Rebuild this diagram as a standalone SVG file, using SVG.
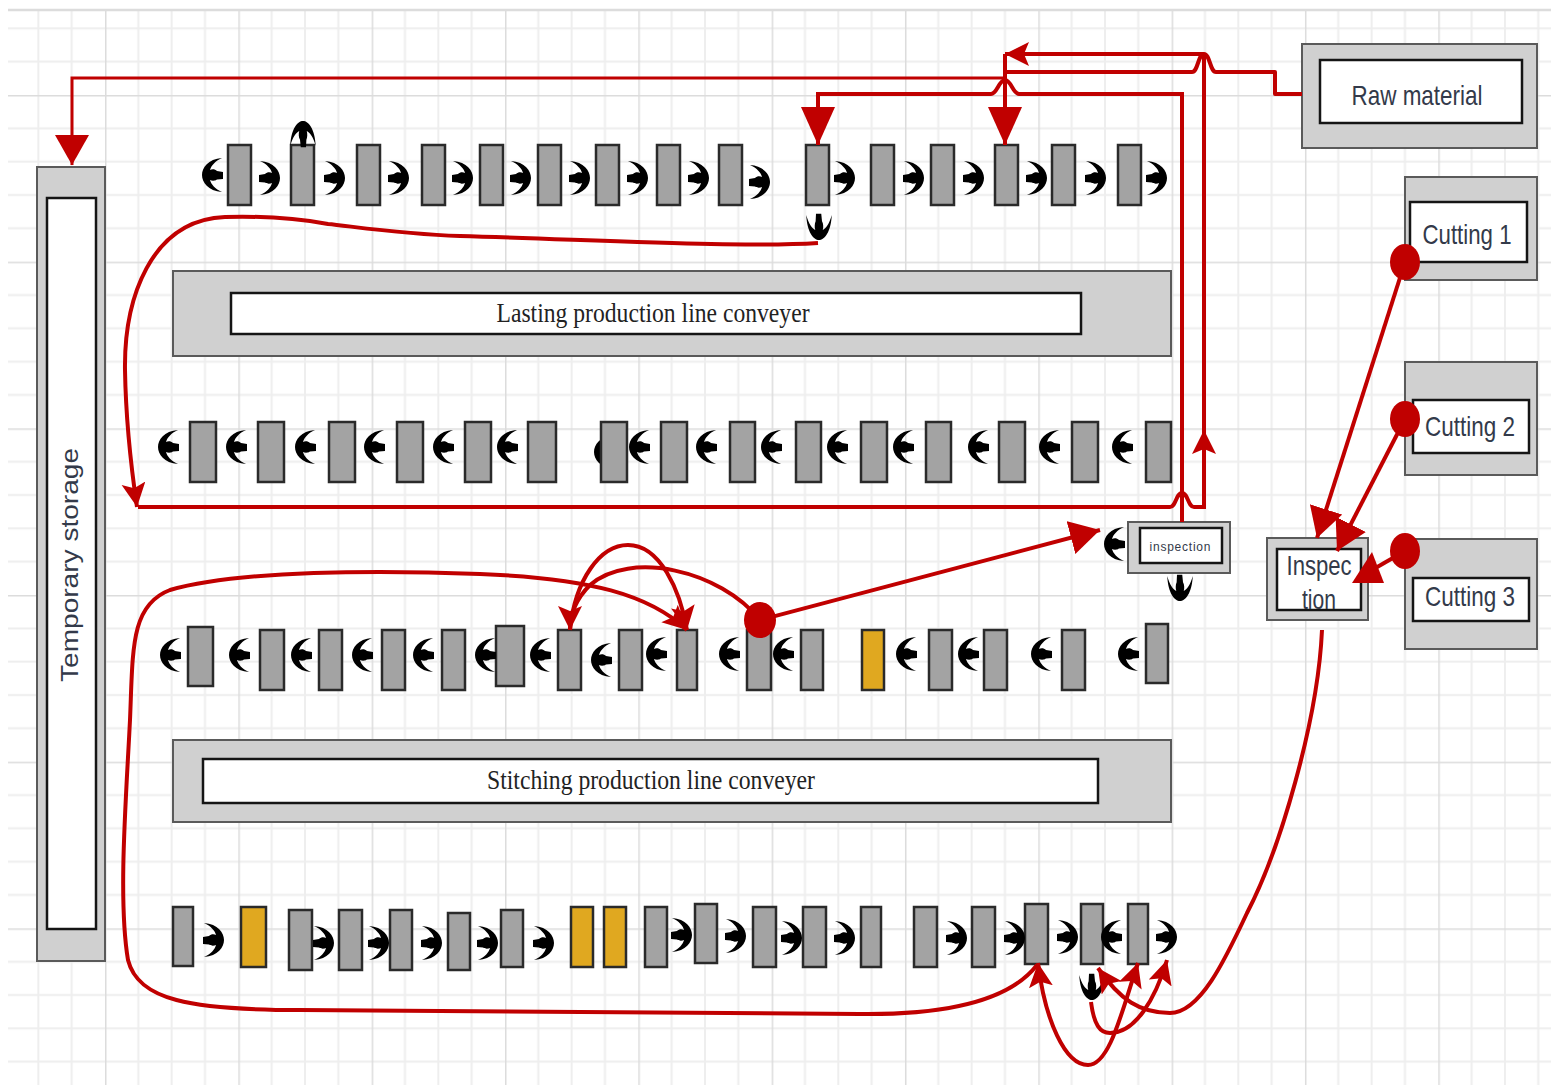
<svg xmlns="http://www.w3.org/2000/svg" width="1551" height="1085" viewBox="0 0 1551 1085">
<style>
.box{fill:#d0d0d0;stroke:#5a5a5a;stroke-width:2}
.in{fill:#fff;stroke:#151515;stroke-width:2.5}
.st{fill:#a3a3a3;stroke:#2a2a2a;stroke-width:2.5}
.go{fill:#e0a820;stroke:#2a2a2a;stroke-width:2.5}
.c{fill:none;stroke:#c00000;stroke-width:4}
.th{stroke-width:3}
.t{fill:#c00000;stroke:none}
.lb{font-family:"Liberation Sans",Arial,sans-serif;fill:#333a4a;text-anchor:middle}
.sf{font-family:"Liberation Serif","Times New Roman",serif;fill:#222;text-anchor:middle}
</style>
<defs>
<pattern id="grid" patternUnits="userSpaceOnUse" x="-28.33" y="-71.67" width="133.33" height="166.67">
<path d="M33.33 0V166.67M66.67 0V166.67M100 0V166.67M0 33.33H133.33M0 66.67H133.33M0 100H133.33M0 133.33H133.33" stroke="#eeeeee" stroke-width="2" fill="none"/>
<path d="M0 0V166.67M0 0H133.33" stroke="#dcdcdc" stroke-width="3" fill="none"/>
</pattern>
<path id="gr" d="M-8,-17C6,-16 12,-7 12,0C12,7 6,16 -8,17C-1,14 3,9 4,5C2,6 -1,6 -3,4.500L-9,4L-9,-3L-3,-4C-1,-6 2,-6 4,-5C3,-9 -1,-14 -8,-17Z" fill="#000"/>
<use id="gl" href="#gr" transform="scale(-1,1)"/>
<use id="gd" href="#gr" transform="rotate(90) scale(1.25,0.75)"/>
<use id="gu" href="#gr" transform="rotate(-90) scale(1.25,0.75)"/>
<marker id="big" markerUnits="userSpaceOnUse" markerWidth="34" markerHeight="36" refX="30" refY="17" orient="auto"><path d="M0,0L30,17L0,34Z" fill="#c00000"/></marker>
<marker id="tall" markerUnits="userSpaceOnUse" markerWidth="40" markerHeight="36" refX="38" refY="17" orient="auto"><path d="M0,0L38,17L0,34Z" fill="#c00000"/></marker>
<marker id="mid" markerUnits="userSpaceOnUse" markerWidth="26" markerHeight="26" refX="24" refY="12" orient="auto"><path d="M0,0L24,12L0,24L5,12Z" fill="#c00000"/></marker>
</defs>
<rect x="8" y="10" width="1543" height="1075" fill="#fff"/>
<rect x="8" y="10" width="1543" height="1075" fill="url(#grid)"/>
<path d="M8 10H1551" stroke="#dcdcdc" stroke-width="2.5"/>

<g id="temporary-storage"><rect class="box" x="37" y="167" width="68" height="794"/><rect class="in" x="47" y="198" width="49" height="731"/><text class="lb" transform="translate(78,565) rotate(-90)" font-size="24" textLength="234" lengthAdjust="spacingAndGlyphs">Temporary storage</text></g>
<g id="lasting-conveyer"><rect class="box" x="173" y="271" width="998" height="85"/><rect class="in" x="231" y="293" width="850" height="41"/><text class="sf" x="653" y="322" font-size="28" textLength="313" lengthAdjust="spacingAndGlyphs">Lasting production line conveyer</text></g>
<g id="stitching-conveyer"><rect class="box" x="173" y="740" width="998" height="82"/><rect class="in" x="203" y="759" width="895" height="44"/><text class="sf" x="651" y="789" font-size="28" textLength="328" lengthAdjust="spacingAndGlyphs">Stitching production line conveyer</text></g>
<g id="raw-material"><rect class="box" x="1302" y="44" width="235" height="104"/><rect class="in" x="1320" y="60" width="202" height="63"/><text class="lb" x="1417" y="105" font-size="28" textLength="131" lengthAdjust="spacingAndGlyphs">Raw material</text></g>
<g id="cutting-1"><rect class="box" x="1405" y="177" width="132" height="103"/><rect class="in" x="1410" y="202" width="117" height="60"/><text class="lb" x="1467" y="244" font-size="28" textLength="89" lengthAdjust="spacingAndGlyphs">Cutting 1</text></g>
<g id="cutting-2"><rect class="box" x="1405" y="362" width="132" height="113"/><rect class="in" x="1413" y="400" width="116" height="53"/><text class="lb" x="1470" y="436" font-size="28" textLength="90" lengthAdjust="spacingAndGlyphs">Cutting 2</text></g>
<g id="cutting-3"><rect class="box" x="1405" y="539" width="132" height="110"/><rect class="in" x="1413" y="578" width="116" height="43"/><text class="lb" x="1470" y="606" font-size="28" textLength="90" lengthAdjust="spacingAndGlyphs">Cutting 3</text></g>
<g id="inspection-main"><rect class="box" x="1267" y="538" width="101" height="82"/><rect class="in" x="1277" y="549" width="84" height="61"/><text class="lb" x="1319" y="575" font-size="27" textLength="65" lengthAdjust="spacingAndGlyphs">Inspec</text><text class="lb" x="1319" y="609" font-size="27" textLength="34" lengthAdjust="spacingAndGlyphs">tion</text></g>
<g id="inspection-small"><rect class="box" x="1128" y="522" width="102" height="51"/><rect class="in" x="1140" y="528" width="82" height="35"/><text class="lb" x="1180" y="551" font-size="12" textLength="61" lengthAdjust="spacing">inspection</text></g>

<use href="#gl" transform="translate(606,452)"/>

<g id="row-1">
<g id="r1-1"><rect class="st" x="228" y="145" width="23" height="60"/></g>
<g id="r1-2"><rect class="st" x="291" y="145" width="23" height="60"/></g>
<g id="r1-3"><rect class="st" x="357" y="145" width="23" height="60"/></g>
<g id="r1-4"><rect class="st" x="422" y="145" width="23" height="60"/></g>
<g id="r1-5"><rect class="st" x="480" y="145" width="23" height="60"/></g>
<g id="r1-6"><rect class="st" x="538" y="145" width="23" height="60"/></g>
<g id="r1-7"><rect class="st" x="596" y="145" width="23" height="60"/></g>
<g id="r1-8"><rect class="st" x="657" y="145" width="23" height="60"/></g>
<g id="r1-9"><rect class="st" x="719" y="145" width="23" height="60"/></g>
<g id="r1-10"><rect class="st" x="806" y="145" width="23" height="60"/></g>
<g id="r1-11"><rect class="st" x="871" y="145" width="23" height="60"/></g>
<g id="r1-12"><rect class="st" x="931" y="145" width="23" height="60"/></g>
<g id="r1-13"><rect class="st" x="995" y="145" width="23" height="60"/></g>
<g id="r1-14"><rect class="st" x="1052" y="145" width="23" height="60"/></g>
<g id="r1-15"><rect class="st" x="1118" y="145" width="23" height="60"/></g>
</g>
<g id="row-2">
<g id="r2-1"><rect class="st" x="190" y="422" width="26" height="60"/></g>
<g id="r2-2"><rect class="st" x="258" y="422" width="26" height="60"/></g>
<g id="r2-3"><rect class="st" x="329" y="422" width="26" height="60"/></g>
<g id="r2-4"><rect class="st" x="397" y="422" width="26" height="60"/></g>
<g id="r2-5"><rect class="st" x="465" y="422" width="26" height="60"/></g>
<g id="r2-6"><rect class="st" x="528" y="422" width="28" height="60"/></g>
<g id="r2-7"><rect class="st" x="601" y="422" width="26" height="60"/></g>
<g id="r2-8"><rect class="st" x="661" y="422" width="26" height="60"/></g>
<g id="r2-9"><rect class="st" x="730" y="422" width="25" height="60"/></g>
<g id="r2-10"><rect class="st" x="796" y="422" width="25" height="60"/></g>
<g id="r2-11"><rect class="st" x="861" y="422" width="26" height="60"/></g>
<g id="r2-12"><rect class="st" x="926" y="422" width="25" height="60"/></g>
<g id="r2-13"><rect class="st" x="999" y="422" width="26" height="60"/></g>
<g id="r2-14"><rect class="st" x="1072" y="422" width="26" height="60"/></g>
<g id="r2-15"><rect class="st" x="1146" y="422" width="25" height="60"/></g>
</g>
<g id="row-3">
<g id="r3-1"><rect class="st" x="188" y="627" width="25" height="59"/></g>
<g id="r3-2"><rect class="st" x="260" y="630" width="24" height="60"/></g>
<g id="r3-3"><rect class="st" x="319" y="630" width="23" height="60"/></g>
<g id="r3-4"><rect class="st" x="382" y="630" width="23" height="60"/></g>
<g id="r3-5"><rect class="st" x="442" y="630" width="23" height="60"/></g>
<g id="r3-6"><rect class="st" x="496" y="626" width="28" height="60"/></g>
<g id="r3-7"><rect class="st" x="558" y="630" width="23" height="60"/></g>
<g id="r3-8"><rect class="st" x="619" y="630" width="23" height="60"/></g>
<g id="r3-9"><rect class="st" x="677" y="630" width="20" height="60"/></g>
<g id="r3-10"><rect class="st" x="747" y="630" width="24" height="60"/></g>
<g id="r3-11"><rect class="st" x="801" y="630" width="22" height="60"/></g>
<g id="r3-12"><rect class="go" x="862" y="630" width="22" height="60"/></g>
<g id="r3-13"><rect class="st" x="929" y="630" width="23" height="60"/></g>
<g id="r3-14"><rect class="st" x="984" y="630" width="23" height="60"/></g>
<g id="r3-15"><rect class="st" x="1062" y="630" width="23" height="60"/></g>
<g id="r3-16"><rect class="st" x="1146" y="624" width="22" height="59"/></g>
</g>
<g id="row-4">
<g id="r4-1"><rect class="st" x="173" y="907" width="20" height="59"/></g>
<g id="r4-2"><rect class="go" x="241" y="907" width="25" height="60"/></g>
<g id="r4-3"><rect class="st" x="289" y="910" width="23" height="60"/></g>
<g id="r4-4"><rect class="st" x="339" y="910" width="23" height="60"/></g>
<g id="r4-5"><rect class="st" x="390" y="910" width="22" height="60"/></g>
<g id="r4-6"><rect class="st" x="448" y="913" width="22" height="57"/></g>
<g id="r4-7"><rect class="st" x="501" y="910" width="22" height="57"/></g>
<g id="r4-8"><rect class="go" x="571" y="907" width="22" height="60"/></g>
<g id="r4-9"><rect class="go" x="604" y="907" width="22" height="60"/></g>
<g id="r4-10"><rect class="st" x="645" y="907" width="22" height="60"/></g>
<g id="r4-11"><rect class="st" x="695" y="904" width="22" height="59"/></g>
<g id="r4-12"><rect class="st" x="753" y="907" width="23" height="60"/></g>
<g id="r4-13"><rect class="st" x="803" y="907" width="23" height="60"/></g>
<g id="r4-14"><rect class="st" x="861" y="907" width="20" height="60"/></g>
<g id="r4-15"><rect class="st" x="914" y="907" width="23" height="60"/></g>
<g id="r4-16"><rect class="st" x="972" y="907" width="23" height="60"/></g>
<g id="r4-17"><rect class="st" x="1025" y="904" width="23" height="60"/></g>
<g id="r4-18"><rect class="st" x="1081" y="904" width="22" height="60"/></g>
<g id="r4-19"><rect class="st" x="1128" y="904" width="20" height="60"/></g>
</g>

<g id="ports">
<use href="#gl" transform="translate(214,175)"/><use href="#gu" transform="translate(303,136)"/><use href="#gd" transform="translate(819,225)"/>
<use href="#gr" transform="translate(268,178)"/><use href="#gr" transform="translate(333,178)"/><use href="#gr" transform="translate(397,178)"/><use href="#gr" transform="translate(461,178)"/><use href="#gr" transform="translate(519,178)"/><use href="#gr" transform="translate(578,178)"/><use href="#gr" transform="translate(636,178)"/><use href="#gr" transform="translate(697,178)"/><use href="#gr" transform="translate(758,182)"/><use href="#gr" transform="translate(843,178)"/><use href="#gr" transform="translate(912,178)"/><use href="#gr" transform="translate(972,178)"/><use href="#gr" transform="translate(1035,178)"/><use href="#gr" transform="translate(1094,178)"/><use href="#gr" transform="translate(1155,178)"/>
<use href="#gl" transform="translate(170,447)"/><use href="#gl" transform="translate(238,447)"/><use href="#gl" transform="translate(307,447)"/><use href="#gl" transform="translate(376,447)"/><use href="#gl" transform="translate(445,447)"/><use href="#gl" transform="translate(509,447)"/><use href="#gl" transform="translate(641,447)"/><use href="#gl" transform="translate(708,447)"/><use href="#gl" transform="translate(773,447)"/><use href="#gl" transform="translate(839,447)"/><use href="#gl" transform="translate(905,447)"/><use href="#gl" transform="translate(980,447)"/><use href="#gl" transform="translate(1051,447)"/><use href="#gl" transform="translate(1124,447)"/>
<use href="#gl" transform="translate(1116,544)"/><use href="#gd" transform="translate(1180,586)"/>
<use href="#gl" transform="translate(172,655)"/><use href="#gl" transform="translate(241,655)"/><use href="#gl" transform="translate(303,655)"/><use href="#gl" transform="translate(364,655)"/><use href="#gl" transform="translate(425,655)"/><use href="#gl" transform="translate(487,655)"/><use href="#gl" transform="translate(542,655)"/><use href="#gl" transform="translate(603,660)"/><use href="#gl" transform="translate(658,654)"/><use href="#gl" transform="translate(731,654)"/><use href="#gl" transform="translate(785,654)"/><use href="#gl" transform="translate(908,654)"/><use href="#gl" transform="translate(970,654)"/><use href="#gl" transform="translate(1043,654)"/><use href="#gl" transform="translate(1130,654)"/>
<use href="#gr" transform="translate(212,940)"/><use href="#gr" transform="translate(322,943)"/><use href="#gr" transform="translate(377,943)"/><use href="#gr" transform="translate(430,943)"/><use href="#gr" transform="translate(486,943)"/><use href="#gr" transform="translate(542,943)"/><use href="#gr" transform="translate(680,935)"/><use href="#gr" transform="translate(734,936)"/><use href="#gr" transform="translate(790,938)"/><use href="#gr" transform="translate(843,938)"/><use href="#gr" transform="translate(955,938)"/><use href="#gr" transform="translate(1013,938)"/><use href="#gr" transform="translate(1066,937)"/><use href="#gl" transform="translate(1113,937)"/><use href="#gr" transform="translate(1165,937)"/><use href="#gd" transform="translate(1092,985)"/>
</g>

<g id="connectors">
<path class="c" d="M1302,94H1275V72H1216C1210,72 1210,54 1204,54C1198,54 1198,72 1192,72H1005" stroke-linejoin="round"/>
<path class="c" d="M1204,54H1005" marker-end="url(#mid)"/>
<path class="c" d="M1005,54V145" marker-end="url(#tall)"/>
<path class="c th" d="M1005,78H72V165" marker-end="url(#big)"/>
<path class="c" d="M1182,522V94H1019C1013,94 1011,80 1005,80C999,80 997,94 991,94H818V145" marker-end="url(#tall)"/>
<path class="c" d="M138,507H1170C1176,507 1176,493 1182,493C1188,493 1188,507 1194,507H1204V54"/>
<path class="c" d="M1204,470V430" marker-end="url(#mid)"/>
<path class="c" d="M818,243C740,248 600,240 460,236C400,234 350,226 328,224C290,217 260,216 225,217C150,220 124,300 125,370C126,430 133,480 137,507" marker-end="url(#mid)"/>
<path class="c" d="M760,620C720,570 630,550 590,585C575,600 570,615 570,630" marker-end="url(#mid)"/>
<path class="c" d="M570,630C575,580 600,545 628,545C660,545 680,590 687,630" marker-end="url(#mid)"/>
<path class="c" d="M1037,965C1010,1000 950,1015 860,1014L300,1010C190,1010 138,1000 128,960C118,900 126,800 130,720C133,650 130,605 170,590C240,570 380,570 480,574C590,578 650,595 687,630" marker-end="url(#mid)"/>
<path class="c" d="M760,620L1100,530" marker-end="url(#big)"/>
<path class="c" d="M1088,1065C1065,1065 1045,1020 1038,963" marker-end="url(#mid)"/>
<path class="c" d="M1088,1065C1110,1065 1122,1010 1138,963" marker-end="url(#mid)"/>
<path class="c" d="M1091,1002C1094,1025 1100,1033 1110,1033C1135,1033 1155,1000 1167,960" marker-end="url(#mid)"/>
<path class="c" d="M1322,630C1318,720 1280,850 1247,913C1225,960 1200,1013 1170,1013C1140,1013 1120,1000 1098,968" marker-end="url(#mid)"/>
<path class="c" d="M1405,262L1317,538" marker-end="url(#big)"/>
<path class="c" d="M1405,419L1337,551" marker-end="url(#big)"/>
<path class="c" d="M1405,551L1372,570"/>
<polygon class="t" points="1352,583 1372,552 1384,583"/>
<ellipse class="t" cx="760" cy="620" rx="16" ry="18"/>
<ellipse class="t" cx="1405" cy="262" rx="15" ry="18"/>
<ellipse class="t" cx="1405" cy="419" rx="15" ry="18"/>
<ellipse class="t" cx="1405" cy="551" rx="15" ry="18"/>
</g>
</svg>
